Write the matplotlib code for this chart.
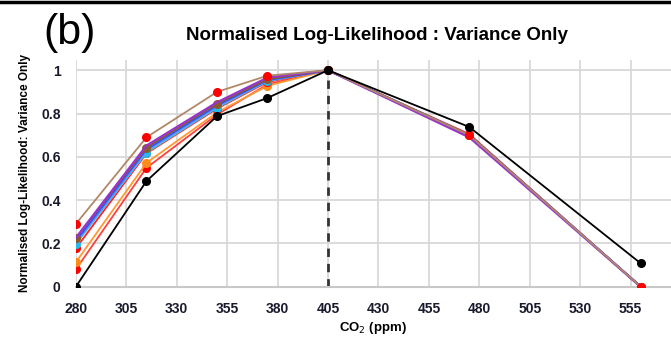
import numpy as np
import matplotlib
matplotlib.use('Agg')
import matplotlib.pyplot as plt
from matplotlib.lines import Line2D

plt.rcParams['font.family'] = ['Liberation Sans', 'DejaVu Sans']

co2 = [280, 315, 350, 375, 405, 475, 560]
xticks = list(range(280, 556, 25))
yticks = [0, 0.2, 0.4, 0.6, 0.8, 1]

# one list of normalised log-likelihood values per run
tan_red = [0.29, 0.69, 0.90, 0.975, 1, 0.70, 0]
purple = [0.226, 0.652, 0.852, 0.966, 1, 0.69, 0]
brown = [0.223, 0.643, 0.845, 0.958, 1, 0.70, 0]
blue = [0.212, 0.635, 0.838, 0.955, 1, 0.70, 0]
lightblue = [0.203, 0.627, 0.832, 0.952, 1, 0.70, 0]
cyan = [0.197, 0.62, 0.827, 0.95, 1, 0.70, 0]
red = [0.177, 0.616, 0.823, 0.946, 1, 0.705, 0]
orange = [0.113, 0.572, 0.805, 0.928, 1, 0.70, 0]
lightred = [0.08, 0.549, 0.795, 0.935, 1, 0.70, 0]
black = [0, 0.488, 0.788, 0.872, 1, 0.738, 0.108]

# (values, line colour, marker colour or None)
series = [
    (lightred, '#ff4040', 'red'),
    (orange, '#ff9933', '#ff8c1a'),
    (red, '#ff2020', 'red'),
    (cyan, '#33ccee', '#22bbee'),
    (lightblue, '#6699ff', None),
    (blue, '#3355ff', None),
    (brown, '#8b5a2b', '#8b5a2b'),
    (purple, '#9933cc', None),
    (tan_red, '#b08868', 'red'),
    (black, 'black', 'black'),
]

fig = plt.figure(figsize=(6.71, 3.48), dpi=100)
ax = fig.add_axes([0.113, 0.176, 0.887, 0.652])

for vals, lc, mc in series:
    if mc is None:
        ax.plot(co2, vals, color=lc, lw=1.6, zorder=3)
    else:
        ax.plot(co2, vals, color=lc, lw=1.3, marker='o', ms=5.5,
                mfc=mc, mec=mc, zorder=3)

ax.plot([405, 405], [0, 1], color='#333333', lw=2, ls=(0, (3, 2.5)), zorder=2)

ax.set_xlim(280, 575)
ax.set_ylim(0, 1.048)
ax.set_xticks(xticks)
ax.set_yticks(yticks)
ax.set_yticklabels(['0', '0.2', '0.4', '0.6', '0.8', '1'])
ax.grid(True, color='#d9d9d9', lw=1.3)
ax.set_axisbelow(True)
for s in ['top', 'right', 'left']:
    ax.spines[s].set_visible(False)
ax.spines['bottom'].set_color('#c8c8c8')
ax.spines['bottom'].set_linewidth(1.5)
ax.tick_params(length=0, labelsize=10, colors='#1a1a2e', pad=11)
for lab in ax.get_xticklabels() + ax.get_yticklabels():
    lab.set_fontweight('bold')

ax.set_xlabel('CO$_2$ (ppm)', fontsize=9.5, fontweight='bold', labelpad=3)
ax.set_ylabel('Normalised Log-Likelihood: Variance Only', fontsize=8.5,
              fontweight='bold', labelpad=7)

fig.text(0.562, 0.897, 'Normalised Log-Likelihood : Variance Only',
         ha='center', va='center', fontsize=13.5, fontweight='bold')
fig.text(0.104, 0.905, '(b)', ha='center', va='center', fontsize=31)
fig.add_artist(Line2D([0, 1], [0.995, 0.995], color='black', lw=2.5))

fig.savefig('out.png', dpi=100)
